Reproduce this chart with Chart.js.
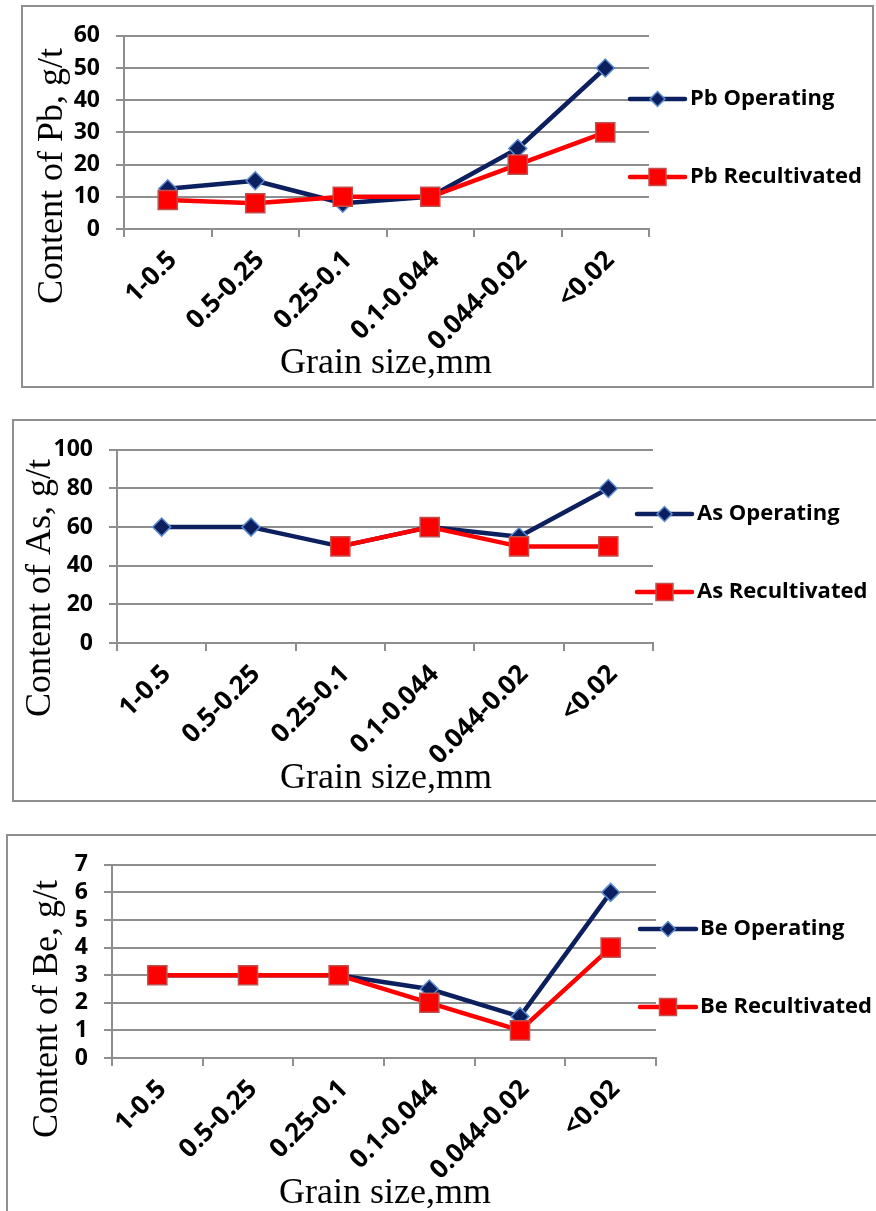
<!DOCTYPE html>
<html>
<head>
<meta charset="utf-8">
<script src="https://cdn.jsdelivr.net/npm/chart.js@4.4.0/dist/chart.umd.min.js"></script>
<style>
  html, body { margin: 0; padding: 0; background: #fff; }
  body { position: relative; width: 876px; height: 1211px; overflow: hidden; }
  .frame { position: absolute; border: 2px solid #8f8f8f; box-sizing: border-box; }
  canvas { position: absolute; }
</style>
</head>
<body>
<div class="frame" style="left:21px;top:5px;width:853px;height:383px"></div>
<div class="frame" style="left:12px;top:419px;width:900px;height:383px"></div>
<div class="frame" style="left:6px;top:834px;width:900px;height:420px"></div>
<canvas id="pb" width="852" height="381" style="left:22px;top:6px"></canvas>
<canvas id="as" width="863" height="381" style="left:13px;top:420px"></canvas>
<canvas id="be" width="869" height="376" style="left:7px;top:835px"></canvas>
<script>
// Grain-size fractions (mm) shared by all three panels
const grainSizes = ['1-0.5', '0.5-0.25', '0.25-0.1', '0.1-0.044', '0.044-0.02', '<0.02'];

// Lead content, g/t
const pbOperating    = [12.5, 15, 8, 10, 25, 50];
const pbRecultivated = [9, 8, 10, 10, 20, 30];

// Arsenic content, g/t
const asOperating    = [60, 60, 50, 60, 55, 80];
const asRecultivated = [null, null, 50, 60, 50, 50];

// Beryllium content, g/t
const beOperating    = [3, 3, 3, 2.5, 1.5, 6];
const beRecultivated = [3, 3, 3, 2, 1, 4];

// Value-axis ranges: [min, max, step]
const pbAxis = [0, 60, 10];
const asAxis = [0, 100, 20];
const beAxis = [0, 7, 1];

const NAVY = '#0c1f5e';
const NAVY_EDGE = '#5b8bd0';
const RED = '#ff0000';
const RED_EDGE = '#c0504d';
const GRID = '#8e8e8e';
const X_TICK_FONT = { family: '"Open Sans"', weight: 'bold', size: 26 };
const Y_TICK_FONT = { family: '"Open Sans"', weight: 'bold', size: 23 };

// Draws axis titles and a line-with-marker legend
const panelText = {
  id: 'panelText',
  afterDraw(chart, args, o) {
    const ctx = chart.ctx;
    ctx.save();
    ctx.fillStyle = '#000';
    ctx.font = '36px "Liberation Serif"';
    ctx.textAlign = 'center';
    ctx.textBaseline = 'alphabetic';
    ctx.save();
    ctx.translate(o.yTitle.x, o.yTitle.y);
    ctx.rotate(-Math.PI / 2);
    ctx.fillText(o.yTitle.text, 0, 0);
    ctx.restore();
    ctx.fillText(o.xTitle.text, o.xTitle.x, o.xTitle.y);

    const lg = o.legend;
    chart.data.datasets.forEach((ds, i) => {
      const y = lg.rows[i];
      ctx.strokeStyle = ds.borderColor;
      ctx.lineWidth = 4.5;
      ctx.lineCap = 'round';
      ctx.beginPath();
      ctx.moveTo(lg.x0, y);
      ctx.lineTo(lg.x1, y);
      ctx.stroke();
      ctx.fillStyle = ds.pointBackgroundColor;
      ctx.strokeStyle = ds.pointBorderColor;
      ctx.lineWidth = 1.5;
      Chart.helpers.drawPoint(ctx, {
        pointStyle: ds.pointStyle,
        radius: ds.pointStyle === 'rect' ? 12 : 7.5,
        rotation: 0,
        borderWidth: 1.5
      }, (lg.x0 + lg.x1) / 2, y);
      ctx.fillStyle = '#000';
      ctx.font = 'bold 22px "Open Sans"';
      ctx.textAlign = 'left';
      ctx.textBaseline = 'middle';
      ctx.fillText(ds.label, lg.tx, y);
    });
    ctx.restore();
  }
};

function series(label, values, isRecult) {
  return {
    label,
    data: values,
    borderColor: isRecult ? RED : NAVY,
    backgroundColor: isRecult ? RED : NAVY,
    borderWidth: 4.5,
    borderJoinStyle: 'round',
    borderCapStyle: 'round',
    tension: 0,
    pointStyle: isRecult ? 'rect' : 'rectRot',
    pointRadius: isRecult ? 13.5 : 9,
    pointBackgroundColor: isRecult ? RED : NAVY,
    pointBorderColor: isRecult ? RED_EDGE : NAVY_EDGE,
    pointBorderWidth: 1.5,
    order: isRecult ? 1 : 2,
    spanGaps: false
  };
}

function panel(id, el, opV, reV, axis, g) {
  new Chart(document.getElementById(id), {
    type: 'line',
    data: {
      labels: grainSizes,
      datasets: [
        series(el + ' Operating', opV, false),
        series(el + ' Recultivated', reV, true)
      ]
    },
    plugins: [panelText],
    options: {
      responsive: false,
      animation: false,
      devicePixelRatio: 1,
      layout: { padding: { left: 0, top: g.top, right: g.right, bottom: 0 } },
      plugins: {
        legend: { display: false },
        tooltip: { enabled: false },
        panelText: {
          yTitle: { text: 'Content of ' + el + ', g/t', x: g.yt[0], y: g.yt[1] },
          xTitle: { text: 'Grain size,mm', x: g.xt[0], y: g.xt[1] },
          legend: g.lg
        }
      },
      scales: {
        x: {
          type: 'category',
          offset: true,
          grid: { offset: true, drawOnChartArea: false, drawTicks: true, tickLength: 8, color: GRID, lineWidth: 2 },
          border: { color: GRID, width: 2 },
          ticks: { minRotation: 45, maxRotation: 45, autoSkip: false, padding: 8, labelOffset: 5, color: '#000', font: X_TICK_FONT },
          afterFit(s) { s.height = g.xh; }
        },
        y: {
          min: axis[0],
          max: axis[1],
          ticks: { stepSize: axis[2], autoSkip: false, padding: 16, color: '#000', font: Y_TICK_FONT },
          grid: { color: GRID, lineWidth: 2, tickLength: 8 },
          border: { color: GRID, width: 2 },
          afterFit(s) { s.width = g.left; }
        }
      }
    }
  });
}

panel('pb', 'Pb', pbOperating, pbRecultivated, pbAxis, {
  left: 102, top: 21, right: 225, xh: 158,
  yt: [40, 170], xt: [364, 367],
  lg: { x0: 608, x1: 663, tx: 668, rows: [93, 171] }
});
panel('as', 'As', asOperating, asRecultivated, asAxis, {
  left: 104, top: 21, right: 223, xh: 158,
  yt: [37, 168], xt: [373, 368],
  lg: { x0: 624, x1: 679, tx: 684, rows: [94, 172] }
});
panel('be', 'Be', beOperating, beRecultivated, beAxis, {
  left: 105, top: 23, right: 220, xh: 153,
  yt: [50, 174], xt: [378, 368],
  lg: { x0: 633, x1: 689, tx: 693, rows: [94, 172] }
});
</script>
</body>
</html>
